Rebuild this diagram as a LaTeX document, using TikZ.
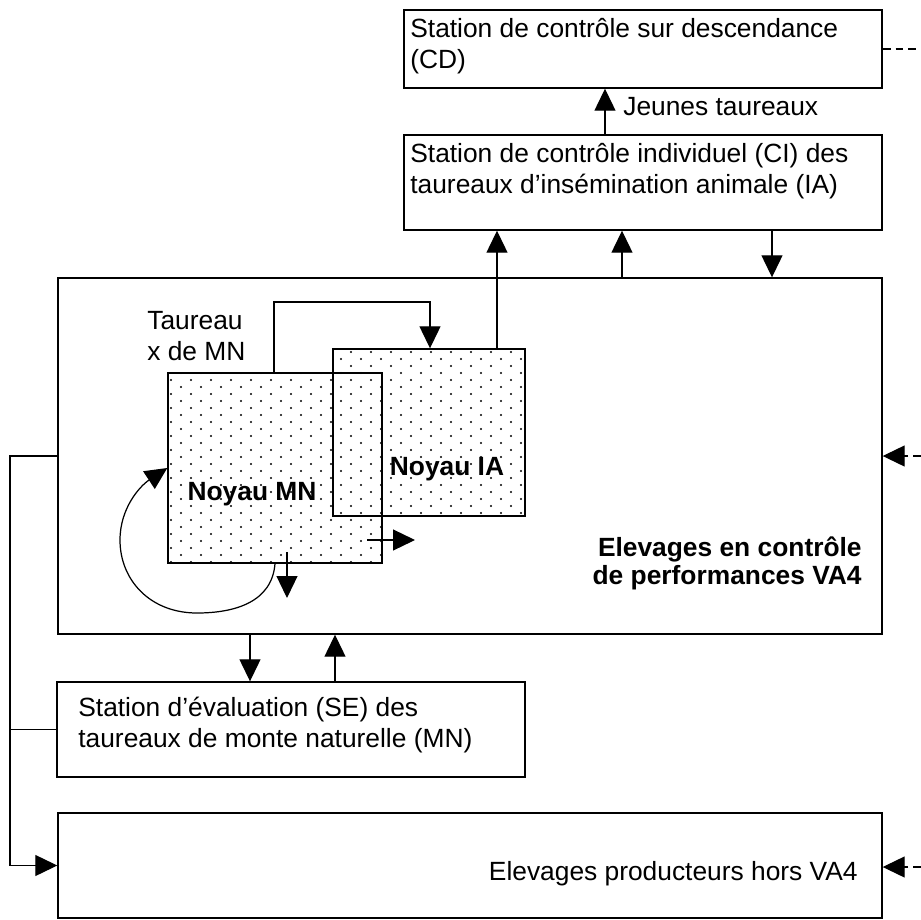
\documentclass[tikz,border=0pt]{standalone}
\usepackage{fontspec}
\setmainfont{Liberation Sans}
\usetikzlibrary{arrows.meta}
\usetikzlibrary{fit}

\tikzset{
  box/.style={draw, line width=0.8pt, inner sep=0pt},
  flow/.style={line width=0.7pt, -{Triangle[length=4.4mm,width=4.2mm]}},
  link/.style={line width=0.7pt},
  ext/.style={flow, dash pattern=on 4.5pt off 2.8pt},
  lbl/.style={inner sep=0pt, align=left, font=\fontsize{15}{17.6}\selectfont},
  lblb/.style={inner sep=0pt, align=right, font=\fontsize{15}{15.4}\selectfont\bfseries}
}

\begin{document}
\begin{tikzpicture}[x=0.02cm,y=-0.02cm]
\useasboundingbox (0,0) rectangle (921,920);
\node[box, fit={(404,10)(882,88)}] (cd) {};
\node[box, fit={(404,135)(882,230)}] (ci) {};
\node[box, fit={(58,278)(882,634)}] (elev) {};
\node[box, fit={(57,682)(525,777)}] (se) {};
\node[box, fit={(58,813)(882,918)}] (prod) {};
\node[box, fit={(168,373)(382,563)}] (mn) {};
\node[box, fit={(333,349)(525,516)}] (ia) {};
\begin{scope}
\clip (mn.north west) rectangle (mn.south east) (ia.north west) rectangle (ia.south east);
\foreach \j in {0,...,31}
  \foreach \i in {0,...,18}
    \fill ({171+\i*20+mod(\j,2)*10}, {352+\j*7}) circle (0.65pt);
\end{scope}
\node[lbl, anchor=base west] (cdtxt) at (410,68) {Station de contrôle sur descendance\\(CD)};
\node[lbl, anchor=base west] (citxt) at (410,193) {Station de contrôle individuel (CI) des\\taureaux d’insémination animale (IA)};
\node[lbl, anchor=base west] (jeunes) at (623,115) {Jeunes taureaux};
\node[lbl, anchor=base west] (taureau) at (147,360) {Taureau\\x de MN};
\node[lbl, anchor=base west] (setxt) at (78,747) {Station d’évaluation (SE) des\\taureaux de monte naturelle (MN)};
\node[lbl, anchor=base east] (prodtxt) at (858,880) {Elevages producteurs hors VA4};
\node[lblb, anchor=base east] (elevtxt) at (862,584) {Elevages en contrôle\\de performances VA4};
\node[lblb, anchor=base] (mntxt) at (252,500) {Noyau MN};
\node[lblb, anchor=base] (iatxt) at (447,475) {Noyau IA};
\draw[flow] (605,0 |- ci.north) -- (605,0 |- cd.south);
\draw[flow] (497,0 |- ia.north) -- (497,0 |- ci.south);
\draw[flow] (622,0 |- elev.north) -- (622,0 |- ci.south);
\draw[flow] (772,0 |- ci.south) -- (772,0 |- elev.north);
\draw[flow] (274,0 |- mn.north) -- (274,302) -| (ia.north -| 430,0);
\draw[flow] (250,0 |- elev.south) -- (250,0 |- se.north);
\draw[flow] (335,0 |- se.north) -- (335,0 |- elev.south);
\draw[link] (se.west) -- (10,0 |- se.west);
\draw[flow] (elev.west |- 0,456) -- (10,456) |- (prod.west);
\coordinate (mnout) at (367,540);
\coordinate (mnend) at (415,540);
\coordinate (mndown) at (287,552);
\coordinate (mndend) at (287,598);
\draw[flow] (mnout) -- (mnend);
\draw[flow] (mndown) -- (mndend);
\draw[flow] (275,0 |- mn.south) .. controls (272,602) and (235,613) .. (197,613)
  .. controls (150,613) and (120,580) .. (120,540)
  .. controls (120,508) and (140,486) .. (mn.west |- 0,468);
\coordinate (r1) at (921,49);
\coordinate (r2) at (921,456);
\coordinate (r3) at (921,867);
\draw[link, dash pattern=on 4.5pt off 2.8pt] (cd.east) -- (r1);
\draw[ext] (r2) -- (r2 -| elev.east);
\draw[ext] (r3) -- (r3 -| prod.east);
\end{tikzpicture}
\end{document}
